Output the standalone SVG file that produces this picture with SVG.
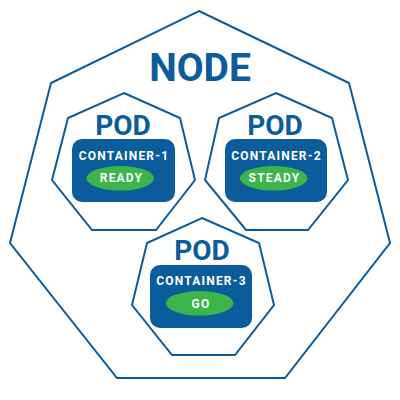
<svg xmlns="http://www.w3.org/2000/svg" width="400" height="400" viewBox="0 0 400 400">
<style>
.hept{fill:#fff;stroke:#0b5c9b;stroke-width:2;stroke-linejoin:miter}
.box{fill:#0b5c9b}
.pill{fill:#3cb54a}
.t{font-family:Roboto,"Liberation Sans",sans-serif;font-weight:bold;text-anchor:middle}
.big{fill:#0b5c9b;font-size:39px}
.pod{fill:#0b5c9b;font-size:28px}
.c{fill:#fff;font-size:12px;letter-spacing:1.2px}
</style>
<rect width="400" height="400" fill="#fff"/>
<g id="node">
<polygon class="hept" points="199,11 349,83 390,243 285,378 117,378 10,243 51,83"/>
<text class="t big" x="200" y="81">NODE</text>
</g>
<g id="pod1">
<polygon class="hept" points="124,93 180,118 195,180 156,230 92,230 52,180 68,118"/>
<text class="t pod" x="123" y="135">POD</text>
<rect class="box" x="72" y="139" width="103" height="63" rx="10"/>
<text class="t c" x="124" y="160">CONTAINER-1</text>
<ellipse class="pill" cx="120.3" cy="178.3" rx="33.7" ry="12.3"/>
<text class="t c" x="121.5" y="182">READY</text>
</g>
<g id="pod2">
<polygon class="hept" points="276,93 332,118 348,180 308,230 246,230 205,180 219,118"/>
<text class="t pod" x="275" y="135">POD</text>
<rect class="box" x="225" y="139" width="102" height="63" rx="10"/>
<text class="t c" x="276.5" y="160">CONTAINER-2</text>
<ellipse class="pill" cx="273.7" cy="178.3" rx="33.7" ry="12.3"/>
<text class="t c" x="274.5" y="182">STEADY</text>
</g>
<g id="pod3">
<polygon class="hept" points="202,218 259,243 274,305 235,355 172,355 132,305 147,243"/>
<text class="t pod" x="202" y="260">POD</text>
<rect class="box" x="150" y="265" width="102" height="63" rx="10"/>
<text class="t c" x="201.5" y="285">CONTAINER-3</text>
<ellipse class="pill" cx="199.7" cy="303.3" rx="33.7" ry="12.3"/>
<text class="t c" x="201" y="307.5">GO</text>
</g>
<g id="connectors"/>
</svg>
